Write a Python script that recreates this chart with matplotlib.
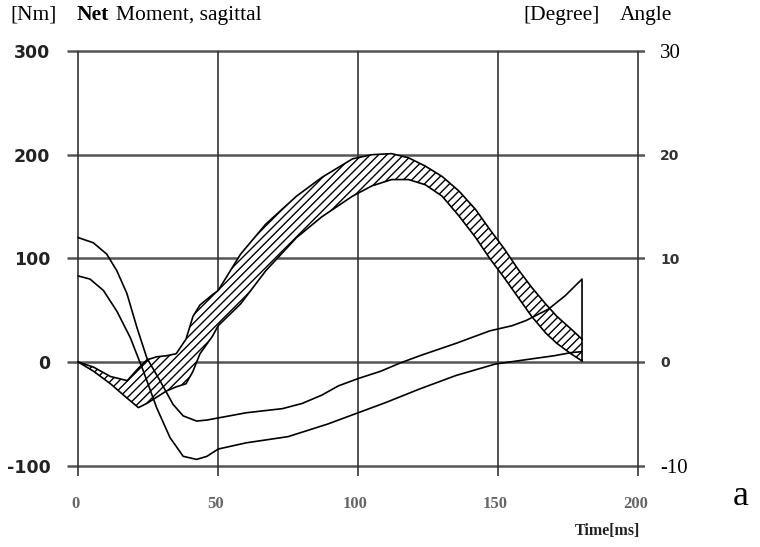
import matplotlib
matplotlib.use('Agg')
import matplotlib.pyplot as plt

# moment band (Nm): lower / upper edge of the hatched region
band_t = [0, 5.5, 11.5, 17.5, 21.5, 24.5, 28, 31.5, 35, 38.5, 41, 43.5, 48, 50, 58, 67,
          78, 87, 98, 105, 112, 118, 124, 130, 136, 142, 147, 152, 157, 162, 167, 171,
          176, 180]
band_lo = [0, -9, -21, -35, -44, -40, -34, -28, -24, -21, -9, 8, 25, 35, 56, 88,
           120, 140, 160, 170, 176, 176, 171, 160, 141, 120, 100, 82, 63, 44, 28, 18,
           8, 1]
band_hi = [0, -5, -14, -18, -6, 2, 5, 6, 8, 22, 44, 55, 65, 69, 104, 133,
           160, 178, 196, 200, 201, 197, 189, 179, 165, 147, 128, 110, 90, 72, 56, 44,
           32, 22]

# knee angles (degree)
angle_a_t = [0, 5.4, 10.2, 13.8, 17.4, 21, 24.5, 29.2, 33.9, 37.5, 42.3, 46, 50, 60,
             73, 80, 87, 93, 100, 108, 115, 122, 135, 147, 155, 160, 168, 174, 180, 180]
angle_a = [12.0, 11.5, 10.4, 8.8, 6.6, 3.3, 0.4, -1.8, -4.1, -5.2, -5.7, -5.6, -5.4, -4.9,
           -4.5, -4.0, -3.2, -2.3, -1.6, -0.9, -0.1, 0.6, 1.8, 3.0, 3.5, 4.0, 5.1, 6.4,
           8.0, 0.1]
angle_b_t = [0, 4.2, 9, 13.8, 18.6, 23.3, 28, 32.8, 37.5, 42.3, 46, 50, 60, 75, 89, 100,
             110, 122, 135, 149, 162, 170, 176, 180]
angle_b = [8.3, 8.0, 6.9, 4.9, 2.35, -0.9, -4.4, -7.3, -9.1, -9.4, -9.1, -8.4, -7.8, -7.2,
           -6.0, -4.9, -3.9, -2.6, -1.3, -0.2, 0.3, 0.6, 0.9, 1.0]

x_ticks = [0, 50, 100, 150, 200]
x_labels = ['0', '50', '100', '150', '200']
left_ticks = [300, 200, 100, 0, -100]
left_labels = ['300', '200', '100', '0', '-100']
right_ticks = [30, 20, 10, 0, -10]
right_labels = ['30', '20', '10', '0', '-10']

SERIF = 'Liberation Serif'

fig = plt.figure(figsize=(7.6, 5.47), dpi=100)
ax = fig.add_axes([0.0882, 0.1298, 0.7605, 0.7788])
ax.set_xlim(-4, 202.5)
ax.set_ylim(-110, 301)

# grid (extends a little past the frame, like in the scan)
ax.hlines(left_ticks, -4, 202.5, color='#555555', lw=1.8, zorder=1)
ax.vlines(x_ticks, -110, 300, color='#333333', lw=1.2, zorder=1)

ax.fill_between(band_t, band_lo, band_hi, facecolor='white', edgecolor='black',
                hatch='////', lw=0, zorder=3)
ax.plot(band_t, band_lo, color='black', lw=1.2, zorder=4)
ax.plot(band_t, band_hi, color='black', lw=1.2, zorder=4)

for s in ax.spines.values():
    s.set_visible(False)
ax.set_xticks([])
ax.set_yticks(left_ticks, left_labels)
ax.tick_params(axis='y', length=0, pad=12, labelsize=12.5)
for lab in ax.get_yticklabels():
    lab.set_fontweight('bold')
    lab.set_color('#222222')

ax2 = ax.twinx()
ax2.set_ylim(-11, 30.1)
ax2.plot(angle_a_t, angle_a, color='black', lw=1.2, zorder=5)
ax2.plot(angle_b_t, angle_b, color='black', lw=1.2, zorder=5)
for s in ax2.spines.values():
    s.set_visible(False)
ax2.set_yticks(right_ticks, right_labels)
ax2.tick_params(axis='y', length=0, pad=11, labelsize=10)
for lab in ax2.get_yticklabels():
    if lab.get_text() in ('30', '-10'):
        lab.set_fontfamily(SERIF)
        lab.set_fontsize(15)
    else:
        lab.set_fontweight('bold')
        lab.set_color('#333333')

# x tick labels below the frame
for xv, xl in zip(x_ticks, x_labels):
    ax.text(xv - 1.0, -137, xl, ha='center', va='center', fontsize=12,
            family=SERIF, color='#666666', fontweight='bold')
ax.text(189, -163, 'Time[ms]', ha='center', va='center', fontsize=11.5,
        family=SERIF, fontweight='bold', color='#222222')

fig.text(0.013, 0.972, '[Nm]', ha='left', va='center', fontsize=15.5, family=SERIF)
fig.text(0.101, 0.972, 'Net', ha='left', va='center', fontsize=15.5, family=SERIF,
         fontweight='bold')
fig.text(0.152, 0.972, 'Moment, sagittal', ha='left', va='center', fontsize=15.5,
         family=SERIF)
fig.text(0.688, 0.972, '[Degree]', ha='left', va='center', fontsize=15.5, family=SERIF)
fig.text(0.816, 0.972, 'Angle', ha='left', va='center', fontsize=15.5, family=SERIF)
fig.text(0.974, 0.092, 'a', ha='center', va='center', fontsize=26, family=SERIF)

fig.savefig('out.png', dpi=100, facecolor='white')
